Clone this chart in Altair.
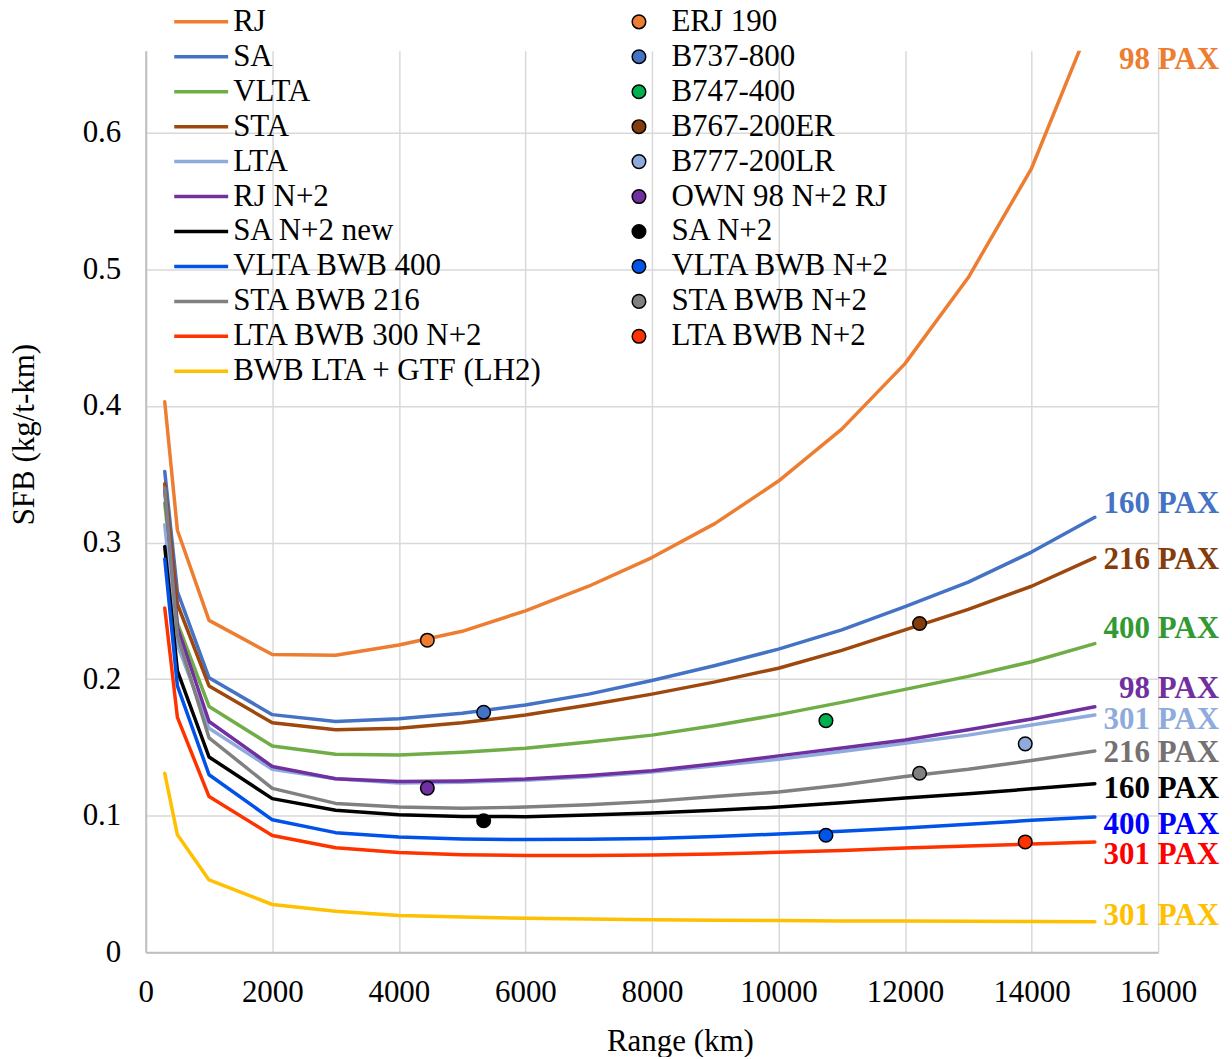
import altair as alt
import pandas as pd

# ---------------- data ----------------
ranges = [300, 500, 1000, 2000, 3000, 4000, 5000, 6000, 7000, 8000,
          9000, 10000, 11000, 12000, 13000, 14000, 15000]

series_names = ["RJ", "SA", "VLTA", "STA", "LTA", "RJ N+2", "SA N+2 new",
                "VLTA BWB 400", "STA BWB 216", "LTA BWB 300 N+2",
                "BWB LTA + GTF (LH2)"]
series_colors = ["#ED7D31", "#4472C4", "#70AD47", "#9E480E", "#8FAADC",
                 "#7030A0", "#000000", "#0052E8", "#808080", "#FF3300",
                 "#FFC000"]

rj = [0.403, 0.309, 0.243, 0.218, 0.2175, 0.225, 0.235, 0.250, 0.268, 0.289,
      0.314, 0.345, 0.383, 0.431, 0.494, 0.574, 0.688]
sa = [0.352, 0.264, 0.201, 0.174, 0.169, 0.171, 0.175, 0.181, 0.189, 0.199,
      0.210, 0.222, 0.236, 0.253, 0.271, 0.293, 0.3185]
vlta = [0.329, 0.241, 0.180, 0.151, 0.145, 0.1445, 0.1465, 0.1494, 0.154, 0.159,
        0.166, 0.174, 0.183, 0.1925, 0.202, 0.2127, 0.226]
sta = [0.343, 0.255, 0.195, 0.168, 0.163, 0.164, 0.168, 0.1737, 0.181, 0.189,
       0.198, 0.208, 0.221, 0.236, 0.251, 0.268, 0.289]
lta = [0.313, 0.225, 0.164, 0.134, 0.127, 0.124, 0.1245, 0.126, 0.1285, 0.132,
       0.1365, 0.1414, 0.147, 0.153, 0.159, 0.1664, 0.1737]
rj_n2 = [0.338, 0.238, 0.169, 0.136, 0.127, 0.125, 0.1255, 0.1268, 0.1295, 0.133,
         0.138, 0.1438, 0.1495, 0.1555, 0.163, 0.1708, 0.1798]
sa_n2_new = [0.297, 0.206, 0.143, 0.1125, 0.104, 0.1007, 0.0995, 0.0993, 0.1005, 0.102,
             0.104, 0.1063, 0.1095, 0.1129, 0.116, 0.1197, 0.1234]
vlta_bwb = [0.288, 0.195, 0.130, 0.097, 0.0876, 0.0844, 0.083, 0.0825, 0.0828, 0.0834,
            0.0848, 0.0866, 0.0887, 0.091, 0.0937, 0.0966, 0.099]
sta_bwb = [0.340, 0.232, 0.157, 0.120, 0.109, 0.1063, 0.1055, 0.1063, 0.108, 0.1105,
           0.114, 0.1173, 0.1225, 0.1287, 0.134, 0.1404, 0.1474]
lta_bwb = [0.252, 0.172, 0.114, 0.0855, 0.0766, 0.073, 0.0715, 0.0708, 0.0708, 0.0712,
           0.072, 0.0732, 0.0745, 0.0764, 0.0778, 0.0793, 0.0808]
bwb_lh2 = [0.131, 0.086, 0.053, 0.035, 0.030, 0.027, 0.0258, 0.0249, 0.0243, 0.0238,
           0.0235, 0.0232, 0.023, 0.0229, 0.0227, 0.0225, 0.0224]

series_values = [rj, sa, vlta, sta, lta, rj_n2, sa_n2_new, vlta_bwb, sta_bwb,
                 lta_bwb, bwb_lh2]

aircraft = ["ERJ 190", "B737-800", "B747-400", "B767-200ER", "B777-200LR",
            "OWN 98 N+2 RJ", "SA N+2", "VLTA BWB N+2", "STA BWB N+2",
            "LTA BWB N+2"]
aircraft_range = [4450, 5340, 10750, 12230, 13900, 4450, 5340, 10750, 12230, 13900]
aircraft_sfb = [0.2285, 0.1757, 0.1696, 0.2407, 0.1526, 0.1202, 0.0963, 0.0857,
                0.1311, 0.0808]
aircraft_colors = ["#ED7D31", "#4472C4", "#00B050", "#843C0C", "#8FAADC",
                   "#7030A0", "#000000", "#0055E8", "#808080", "#FF3300"]

pax_labels = ["98 PAX", "160 PAX", "216 PAX", "400 PAX", "98 PAX", "301 PAX",
              "216 PAX", "160 PAX", "400 PAX", "301 PAX", "301 PAX"]
pax_label_sfb = [0.653, 0.3285, 0.2869, 0.2365, 0.1927, 0.170, 0.146, 0.1197,
                 0.0934, 0.0715, 0.0263]
pax_label_colors = ["#ED7D31", "#4472C4", "#843C0C", "#339933", "#7030A0",
                    "#8FAADC", "#767171", "#000000", "#0000FF", "#FF0000",
                    "#FFC000"]

# ---------------- tables ----------------
line_rows = []
for name, vals in zip(series_names, series_values):
    for r, v in zip(ranges, vals):
        line_rows.append({"series": name, "range": r, "sfb": v})
line_df = pd.DataFrame(line_rows)

pt_df = pd.DataFrame({"aircraft": aircraft, "range": aircraft_range,
                      "sfb": aircraft_sfb})
lab_df = pd.DataFrame({"label": pax_labels, "sfb": pax_label_sfb,
                       "tcolor": pax_label_colors})

FONT = "Liberation Serif"
FS = 31

x_scale = alt.Scale(domain=[0, 16000], nice=False)
y_scale = alt.Scale(domain=[0, 0.66], nice=False, zero=True)

x_axis = alt.Axis(values=list(range(0, 16001, 2000)), format="d",
                  title="Range (km)", titleX=535, titleY=89,
                  titleBaseline="middle", labelPadding=25,
                  labelFlush=False, labelOverlap=False)
y_axis = alt.Axis(values=[0, 0.1, 0.2, 0.3, 0.4, 0.5, 0.6], format=".1~f",
                  title="SFB (kg/t-km)", titleX=-121, titleY=384,
                  titleAngle=-90, titleBaseline="middle", titleAlign="center",
                  labelPadding=25, labelFlush=False, labelOverlap=False)

lines = alt.Chart(line_df).mark_line(
    strokeWidth=3.5, clip=True, strokeJoin="round", strokeCap="round"
).encode(
    x=alt.X("range:Q", scale=x_scale, axis=x_axis),
    y=alt.Y("sfb:Q", scale=y_scale, axis=y_axis),
    color=alt.Color(
        "series:N",
        scale=alt.Scale(domain=series_names, range=series_colors),
        legend=alt.Legend(
            title=None, orient="none", legendX=26.5, legendY=-46.5,
            direction="vertical", symbolType="stroke", symbolSize=2916,
            symbolStrokeWidth=3.5, labelFont=FONT, labelFontSize=FS,
            labelColor="black", labelLimit=0, clipHeight=35, rowPadding=0,
            padding=0, labelOffset=3,
        ),
    ),
)

points = alt.Chart(pt_df).mark_circle(
    size=185, opacity=1, stroke="black", strokeWidth=1.5
).encode(
    x=alt.X("range:Q", scale=x_scale),
    y=alt.Y("sfb:Q", scale=y_scale),
    fill=alt.Fill(
        "aircraft:N",
        scale=alt.Scale(domain=aircraft, range=aircraft_colors),
        legend=alt.Legend(
            title=None, orient="none", legendX=478.5, legendY=-46.5,
            direction="vertical", symbolType="circle", symbolSize=185,
            symbolStrokeColor="black", symbolStrokeWidth=1.5,
            symbolOpacity=1, labelFont=FONT, labelFontSize=FS,
            labelColor="black", labelLimit=0, clipHeight=35, rowPadding=0,
            padding=0, labelOffset=17,
        ),
    ),
)

labels = alt.Chart(lab_df).mark_text(
    align="right", baseline="middle", font=FONT, fontSize=FS,
    fontWeight="bold"
).encode(
    x=alt.value(1075),
    y=alt.Y("sfb:Q", scale=y_scale),
    text="label:N",
    color=alt.Color("tcolor:N", scale=None, legend=None),
)

chart = alt.layer(lines, points, labels).resolve_scale(
    color="independent"
).properties(
    width=1014, height=903,
    padding={"left": 138, "top": 42, "right": 66, "bottom": 104},
    autosize=alt.AutoSizeParams(type="none"),
).configure_view(stroke=None).configure_axis(
    labelFont=FONT, labelFontSize=FS, labelColor="black",
    titleFont=FONT, titleFontSize=FS, titleColor="black",
    titleFontWeight="normal", ticks=False, tickSize=0,
    grid=True, gridColor="#D9D9D9", gridWidth=1.5,
    domainColor="#BFBFBF", domainWidth=2,
)

chart.save("out.html", embed_options={"renderer": "svg", "actions": False})
